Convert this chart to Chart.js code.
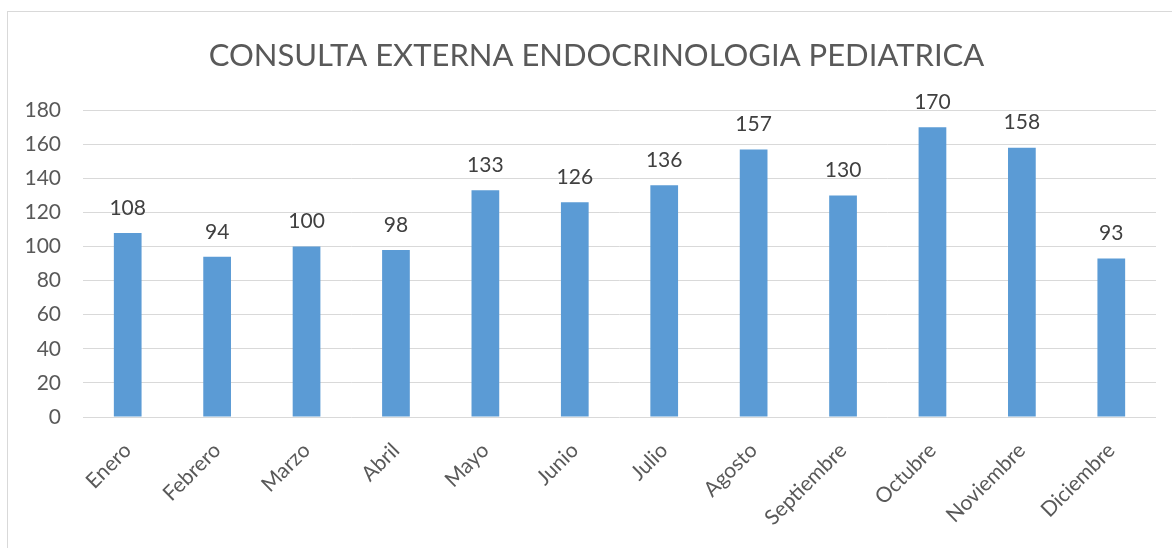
<!DOCTYPE html>
<html>
<head>
<meta charset="utf-8">
<script src="https://cdn.jsdelivr.net/npm/chart.js@4"></script>
<style>
html,body{margin:0;padding:0;background:#fff;}
#wrap{width:1172px;height:548px;position:relative;}
</style>
</head>
<body>
<div id="wrap"><canvas id="c" width="1172" height="548"></canvas></div>
<script>
const title = 'CONSULTA EXTERNA ENDOCRINOLOGIA PEDIATRICA';
const months = ['Enero','Febrero','Marzo','Abril','Mayo','Junio','Julio','Agosto','Septiembre','Octubre','Noviembre','Diciembre'];
const consultas = [108, 94, 100, 98, 133, 126, 136, 157, 130, 170, 158, 93];
const yMin = 0, yMax = 180, yStep = 20;

const FONT = 'Lato, "Open Sans", sans-serif';

const frame = {
  id: 'frame',
  beforeDraw(chart) {
    const ctx = chart.ctx;
    ctx.save();
    ctx.fillStyle = '#ffffff';
    ctx.fillRect(0, 0, chart.width, chart.height);
    ctx.strokeStyle = '#D9D9D9';
    ctx.lineWidth = 1;
    ctx.strokeRect(7.5, 11.5, chart.width + 20, chart.height + 20);
    ctx.restore();
  }
};

const valueLabels = {
  id: 'valueLabels',
  afterDatasetsDraw(chart) {
    const ctx = chart.ctx;
    const meta = chart.getDatasetMeta(0);
    ctx.save();
    ctx.font = '21px ' + FONT;
    ctx.fillStyle = '#404040';
    ctx.textAlign = 'center';
    ctx.textBaseline = 'middle';
    meta.data.forEach((el, i) => {
      ctx.fillText(String(consultas[i]), el.x, el.y - 25);
    });
    ctx.restore();
  }
};

new Chart(document.getElementById('c'), {
  type: 'bar',
  data: {
    labels: months,
    datasets: [{
      data: consultas,
      backgroundColor: '#5B9BD5',
      borderWidth: 0,
      categoryPercentage: 1.0,
      barPercentage: 0.31
    }]
  },
  options: {
    responsive: false,
    animation: false,
    devicePixelRatio: 1,
    layout: { padding: { top: 37, right: 0, bottom: 0, left: 21 } },
    plugins: {
      legend: { display: false },
      tooltip: { enabled: false },
      title: {
        display: true,
        text: title,
        color: '#595959',
        font: { family: FONT, size: 31, weight: 'normal' },
        padding: { top: 0, bottom: 36 }
      }
    },
    scales: {
      x: {
        grid: { display: false },
        border: { display: false },
        ticks: {
          color: '#595959',
          font: { family: FONT, size: 21 },
          minRotation: 45,
          maxRotation: 45,
          padding: 13
        },
        afterFit(scale) { scale.height = 131; }
      },
      y: {
        min: yMin,
        max: yMax,
        grid: { color: '#D9D9D9', lineWidth: 1, drawTicks: false },
        border: { display: false },
        ticks: {
          stepSize: yStep,
          color: '#595959',
          font: { family: FONT, size: 21 },
          padding: 22
        },
        afterFit(scale) { scale.width = 62; }
      },
      yRight: {
        position: 'right',
        min: yMin,
        max: yMax,
        grid: { display: false, drawTicks: false },
        border: { display: false },
        ticks: { display: false },
        afterFit(scale) { scale.width = 16; }
      }
    }
  },
  plugins: [frame, valueLabels]
});
</script>
</body>
</html>
